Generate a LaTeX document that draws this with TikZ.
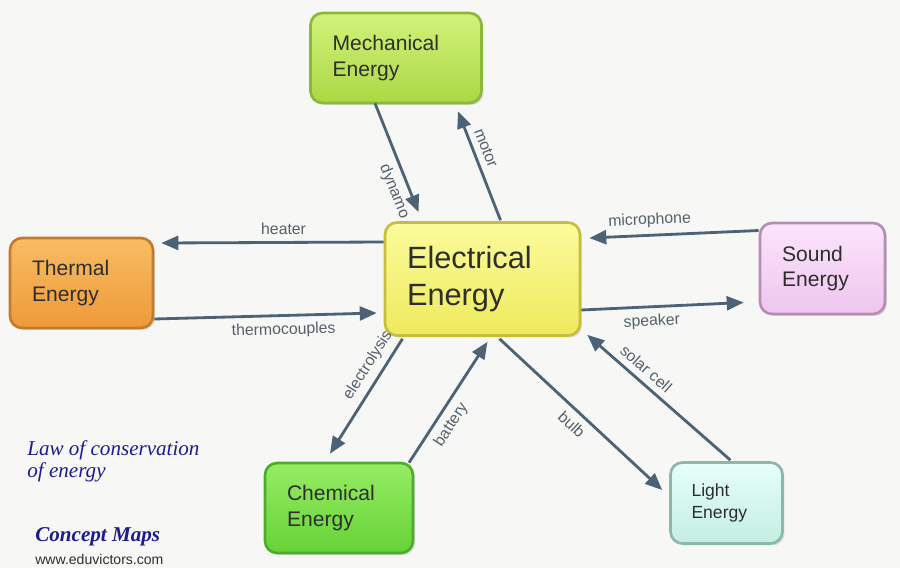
\documentclass[tikz,border=0pt]{standalone}
\usepackage{fontspec}
\setmainfont{Liberation Sans}
\newfontfamily\handfont{Liberation Serif}
\usetikzlibrary{arrows.meta,calc,shadows}
\definecolor{paper}{HTML}{F7F7F5}
\definecolor{linkblue}{HTML}{4B6277}
\definecolor{lblgray}{HTML}{56606A}
\definecolor{textdark}{HTML}{2E2E2E}
\definecolor{inkblue}{HTML}{1C1C8C}
\definecolor{mechtop}{HTML}{D2F27A}
\definecolor{mechfill}{HTML}{ABD844}
\definecolor{mechline}{HTML}{8AB83A}
\definecolor{electop}{HTML}{FBFB9C}
\definecolor{elecfill}{HTML}{EEEA5C}
\definecolor{elecline}{HTML}{C6BE3C}
\definecolor{thermtop}{HTML}{F8BC64}
\definecolor{thermfill}{HTML}{EE9A38}
\definecolor{thermline}{HTML}{C47A2C}
\definecolor{soundtop}{HTML}{FBE4FB}
\definecolor{soundfill}{HTML}{EEC6EE}
\definecolor{soundline}{HTML}{B48EB4}
\definecolor{chemtop}{HTML}{96EC64}
\definecolor{chemfill}{HTML}{66D236}
\definecolor{chemline}{HTML}{4AAE2A}
\definecolor{lighttop}{HTML}{E6FFF8}
\definecolor{lightfill}{HTML}{C4EEE2}
\definecolor{lightline}{HTML}{8CB8AA}

\begin{document}
\begin{tikzpicture}[x=0.02cm, y=-0.02cm,
    concept/.style={rectangle, rounded corners=0.24cm, line width=1.5pt, align=left,
        inner xsep=0.44cm, inner ysep=0pt, text=textdark,
        font=\fontsize{12}{14.5}\selectfont,
        drop shadow={opacity=0.25, shadow xshift=0.04cm, shadow yshift=-0.04cm}},
    link/.style={-{Triangle[length=0.34cm, width=0.28cm]}, line width=1.6pt, draw=linkblue},
    lbl/.style={text=lblgray, font=\fontsize{9}{10}\selectfont, inner sep=3.5pt, sloped}]
    \fill[paper] (0,0) rectangle (900,568);
    \useasboundingbox (0,0) rectangle (900,568);
    % concepts
    \node[concept, top color=electop, bottom color=elecfill, draw=elecline, text width=3.02cm, minimum height=2.26cm, font=\fontsize{17.5}{21}\selectfont] at (482.5,279) (elec) {Electrical\\Energy};
    \node[concept, top color=mechtop, bottom color=mechfill, draw=mechline, text width=2.54cm, minimum height=1.8cm] at (396,58) (mech) {Mechanical\\Energy};
    \node[concept, top color=thermtop, bottom color=thermfill, draw=thermline, text width=1.98cm, minimum height=1.8cm] at (81.5,283) (therm) {Thermal\\Energy};
    \node[concept, top color=soundtop, bottom color=soundfill, draw=soundline, text width=1.62cm, minimum height=1.82cm] at (822.5,268.5) (sound) {Sound\\Energy};
    \node[concept, top color=chemtop, bottom color=chemfill, draw=chemline, text width=2.08cm, minimum height=1.8cm] at (339,508) (chem) {Chemical\\Energy};
    \node[concept, top color=lighttop, bottom color=lightfill, draw=lightline, text width=1.4cm, minimum height=1.62cm, inner xsep=0.42cm, font=\fontsize{10}{12.5}\selectfont] at (726.5,503) (light) {Light\\Energy};
    % conversions
    \draw[link] ($(mech.south)+(-21,-1)$) -- node[lbl, below, pos=0.76] {dynamo} ($(elec.north)+(-64,-9)$);
    \draw[link] ($(elec.north)+(18,-1)$) -- node[lbl, above, pos=0.62] {motor} ($(mech.south)+(62,7)$);
    \draw[link] ($(elec.west)+(0,-37)$) -- node[lbl, above, pos=0.45] {heater} ($(therm.east)+(7,-40)$);
    \draw[link] ($(therm.east)+(0,36)$) -- node[lbl, below, pos=0.58] {thermocouples} ($(elec.west)+(-7,34)$);
    \draw[link] ($(sound.west)+(0,-38)$) -- node[lbl, above, pos=0.64] {microphone} ($(elec.east)+(8,-41)$);
    \draw[link] ($(elec.east)+(0,31)$) -- node[lbl, below, pos=0.43] {speaker} ($(sound.west)+(-15,34)$);
    \draw[link] ($(elec.south)+(-80,2)$) -- node[lbl, above, pos=0.3] {electrolysis} ($(chem.north)+(-9,-8)$);
    \draw[link] ($(chem.north)+(70,1)$) -- node[lbl, below, pos=0.38] {battery} ($(elec.south)+(5,5)$);
    \draw[link] ($(elec.south)+(17,2)$) -- node[lbl, below, pos=0.5] {bulb} ($(light.west)+(-7,-13)$);
    \draw[link] ($(light.north)+(4,-1)$) -- node[lbl, above, pos=0.65] {solar cell} ($(elec.south east)+(6,-2)$);
    % notes
    \node[anchor=west, align=left, text=inkblue, inner sep=0pt, font=\handfont\itshape\fontsize{12}{12.5}\selectfont] at (27,461) (law) {Law of conservation\\of energy};
    \node[anchor=west, text=inkblue, inner sep=0pt, font=\handfont\bfseries\itshape\fontsize{12}{14}\selectfont] at (35,537) (maps) {Concept Maps};
    \node[anchor=west, text=textdark, inner sep=0pt, font=\fontsize{8}{9}\selectfont] at (35,559) (site) {www.eduvictors.com};
\end{tikzpicture}
\end{document}
